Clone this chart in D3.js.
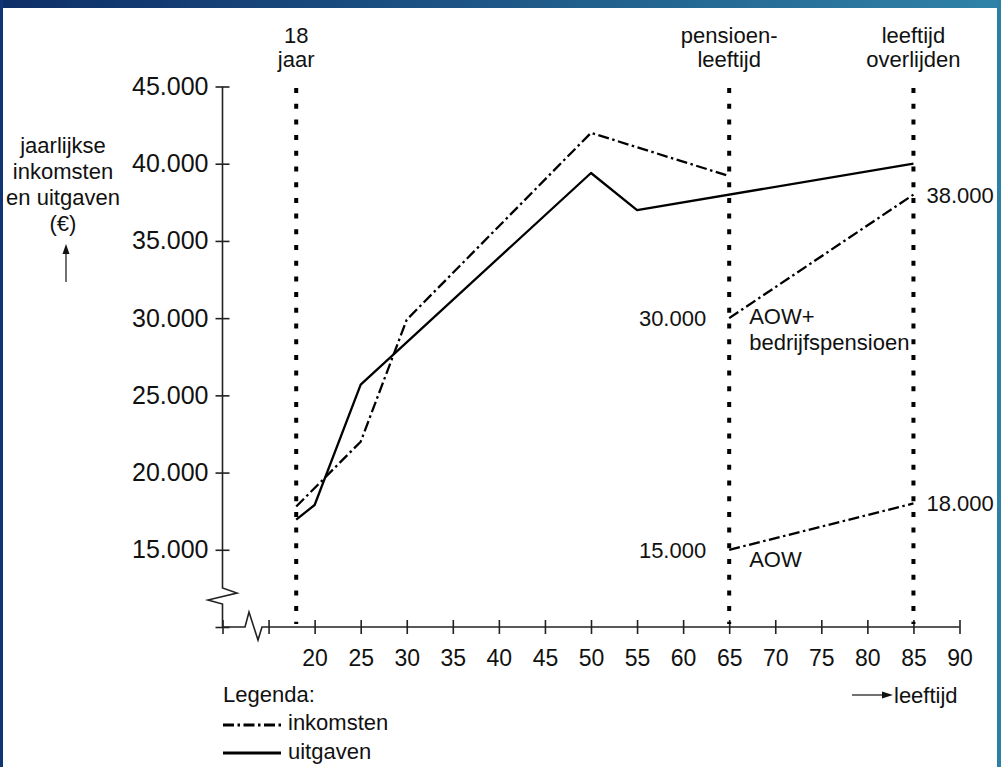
<html>
<head>
<meta charset="utf-8">
<title>Inkomsten en uitgaven</title>
<script src="https://cdn.jsdelivr.net/npm/d3@7"></script>
<style>
  body { margin: 0; background: #fff; }
  text { font-family: "Liberation Sans", Arial, sans-serif; fill: #111; }
</style>
</head>
<body>
<script>
// data
var inkLeeftijd = [18, 25, 30, 50, 65];
var inkomsten   = [17800, 22000, 29900, 42000, 39200];
var uitLeeftijd = [18, 20, 25, 50, 55, 85];
var uitgaven    = [16950, 17900, 25700, 39400, 37000, 40000];
var pensLeeftijd = [65, 85];
var aowPlus = [30000, 38000];
var aow     = [15000, 18000];
var markers = [18, 65, 85];
var markerLabels = [["18", "jaar"], ["pensioen-", "leeftijd"], ["leeftijd", "overlijden"]];
var xTicks = [10, 15, 20, 25, 30, 35, 40, 45, 50, 55, 60, 65, 70, 75, 80, 85, 90];
var yTicks = [10000, 15000, 20000, 25000, 30000, 35000, 40000, 45000];

var w = 1001, h = 767;
var svg = d3.select("body").append("svg").attr("width", w).attr("height", h);
svg.append("rect").attr("width", w).attr("height", h).attr("fill", "#fff");

// blue frame of the slide
var grad = svg.append("defs").append("linearGradient").attr("id", "top");
grad.append("stop").attr("offset", "0%").attr("stop-color", "#0e2e68");
grad.append("stop").attr("offset", "100%").attr("stop-color", "#2f82a8");
svg.append("rect").attr("width", w).attr("height", 8).attr("fill", "url(#top)");
svg.append("rect").attr("width", 3).attr("height", h).attr("fill", "#0f3572");
svg.append("rect").attr("x", w - 4).attr("width", 4).attr("height", h).attr("fill", "#2c7fa5");

var x = d3.scaleLinear().domain([10, 90]).range([222.5, 959.5]);
var y = d3.scaleLinear().domain([10000, 45000]).range([627, 86.5]);
var fmt = d3.formatLocale({decimal: ",", thousands: ".", grouping: [3], currency: ["€", ""]}).format(",");

// axes (ticks through the library, axis lines drawn with a break)
var gx = svg.append("g").attr("transform", "translate(0," + y(10000) + ")")
  .call(d3.axisBottom(x).tickValues(xTicks).tickSize(7).tickPadding(16)
    .tickFormat(function(d) { return d < 20 ? "" : d; }));
gx.select(".domain").remove();
gx.selectAll(".tick line").attr("y1", -7).attr("stroke", "#222").attr("stroke-width", 1.6);
gx.selectAll(".tick text").attr("font-size", 23).attr("font-family", "Liberation Sans, Arial").attr("fill", "#111");

var gy = svg.append("g").attr("transform", "translate(" + x(10) + ",0)")
  .call(d3.axisLeft(y).tickValues(yTicks).tickSize(7).tickPadding(7)
    .tickFormat(function(d) { return d < 15000 ? "" : fmt(d); }));
gy.select(".domain").remove();
gy.selectAll(".tick line").attr("x1", 7).attr("stroke", "#222").attr("stroke-width", 1.6);
gy.selectAll(".tick text").attr("font-size", 25).attr("font-family", "Liberation Sans, Arial").attr("fill", "#111");

var x0 = x(10), y0 = y(10000);
svg.append("path")
  .attr("d", "M" + x0 + "," + y(45000) + "V588 L237,593 L208,600 L" + x0 + ",604 V" + y0 +
        " H245 L249,612 L258,640 L262," + y0 + " H" + x(90))
  .attr("fill", "none").attr("stroke", "#222").attr("stroke-width", 1.6);

// dotted markers
markers.forEach(function(m, i) {
  svg.append("line").attr("x1", x(m)).attr("x2", x(m)).attr("y1", 88).attr("y2", 624)
    .attr("stroke", "#000").attr("stroke-width", 4).attr("stroke-dasharray", "5,10.7");
  markerLabels[i].forEach(function(t, j) {
    svg.append("text").attr("x", x(m)).attr("y", 43 + j * 24).attr("text-anchor", "middle")
      .attr("font-size", 22).text(t);
  });
});

var dashDot = "11,3.5,2.5,3.5";
var line = d3.line().x(function(d) { return x(d[0]); }).y(function(d) { return y(d[1]); });
function draw(xs, ys, dash) {
  svg.append("path").attr("d", line(d3.zip(xs, ys))).attr("fill", "none")
    .attr("stroke", "#000").attr("stroke-width", 2.3).attr("stroke-linejoin", "round")
    .attr("stroke-dasharray", dash);
}
draw(inkLeeftijd, inkomsten, dashDot);
draw(uitLeeftijd, uitgaven, null);
draw(pensLeeftijd, aowPlus, dashDot);
draw(pensLeeftijd, aow, dashDot);

// value labels at the pension lines
function label(tx, ty, t, anchor) {
  svg.append("text").attr("x", tx).attr("y", ty).attr("text-anchor", anchor || "start")
    .attr("font-size", 22).text(t);
}
label(x(65) - 23, y(aowPlus[0]) + 8, fmt(aowPlus[0]), "end");
label(x(65) - 23, y(aow[0]) + 8, fmt(aow[0]), "end");
label(x(85) + 13, y(aowPlus[1]) + 8, fmt(aowPlus[1]));
label(x(85) + 13, y(aow[1]) + 8, fmt(aow[1]));
label(x(65) + 20, y(aowPlus[0]) + 6, "AOW+");
label(x(65) + 20, y(aowPlus[0]) + 32, "bedrijfspensioen");
label(x(65) + 20, y(aow[0]) + 17, "AOW");

// y axis title
["jaarlijkse", "inkomsten", "en uitgaven", "(€)"].forEach(function(t, i) {
  svg.append("text").attr("x", 63).attr("y", 153 + i * 26).attr("text-anchor", "middle")
    .attr("font-size", 22).text(t);
});
svg.append("line").attr("x1", 66).attr("x2", 66).attr("y1", 282).attr("y2", 250)
  .attr("stroke", "#111").attr("stroke-width", 1.2);
svg.append("path").attr("d", "M66,244 L62.5,254 L69.5,254 Z").attr("fill", "#111");

// x axis title
svg.append("line").attr("x1", 852).attr("x2", 884).attr("y1", 695).attr("y2", 695)
  .attr("stroke", "#111").attr("stroke-width", 1.2);
svg.append("path").attr("d", "M893,695 L882,691.5 L882,698.5 Z").attr("fill", "#111");
label(894, 703, "leeftijd");

// legend
label(223, 702, "Legenda:");
svg.append("line").attr("x1", 223).attr("x2", 281).attr("y1", 725).attr("y2", 725)
  .attr("stroke", "#000").attr("stroke-width", 3).attr("stroke-dasharray", dashDot);
label(288, 730, "inkomsten");
svg.append("line").attr("x1", 223).attr("x2", 281).attr("y1", 753).attr("y2", 753)
  .attr("stroke", "#000").attr("stroke-width", 3);
label(288, 759, "uitgaven");
</script>
</body>
</html>
